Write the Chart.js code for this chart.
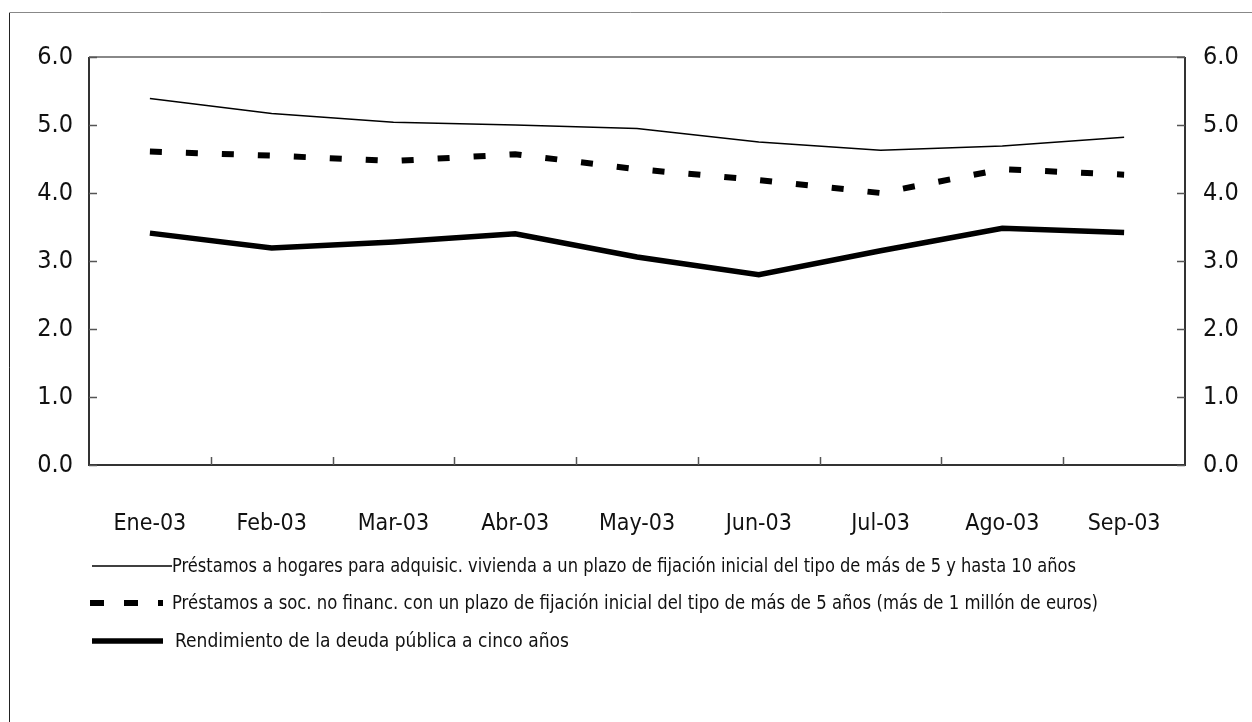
<!DOCTYPE html>
<html>
<head>
<meta charset="utf-8">
<script src="https://cdn.jsdelivr.net/npm/chart.js@4.4.1/dist/chart.umd.min.js"></script>
<style>
  html, body { margin: 0; padding: 0; background: #fff; }
  #wrap { position: relative; width: 1252px; height: 722px; }
</style>
</head>
<body>
<div id="wrap"><canvas id="rates"></canvas></div>
<script>
// ---- data ----
const months = ["Ene-03", "Feb-03", "Mar-03", "Abr-03", "May-03", "Jun-03", "Jul-03", "Ago-03", "Sep-03"];
const hogares = [5.39, 5.17, 5.04, 5.00, 4.95, 4.75, 4.63, 4.69, 4.82];
const sociedades = [4.61, 4.55, 4.47, 4.57, 4.35, 4.19, 4.00, 4.35, 4.27];
const deudaPublica = [3.41, 3.19, 3.28, 3.40, 3.06, 2.80, 3.15, 3.48, 3.42];
const yTicks = [0, 1, 2, 3, 4, 5, 6];
const legendLabels = [
    "Préstamos a hogares para adquisic. vivienda a un plazo de fijación inicial del tipo de más de 5 y hasta 10 años",
    "Préstamos a soc. no financ. con un plazo de fijación inicial del tipo de más de 5 años (más de 1 millón de euros)",
    "Rendimiento de la deuda pública a cinco años",
];

const FONT = "'DejaVu Sans Condensed', 'Liberation Sans', sans-serif";

/**
 * Frame, inward tick marks and the hand-placed legend
 */
const framePlugin = {
    id: "frame",
    beforeDraw(chart) {
        const ctx = chart.ctx;
        ctx.save();
        // outer box (only top/left visible in the picture)
        ctx.strokeStyle = "#888";
        ctx.lineWidth = 1;
        ctx.beginPath();
        ctx.moveTo(9.5, 722);
        ctx.lineTo(9.5, 12.5);
        ctx.lineTo(1252, 12.5);
        ctx.stroke();
        ctx.strokeStyle = "#222";
        ctx.beginPath();
        ctx.moveTo(9.5, 13);
        ctx.lineTo(9.5, 722);
        ctx.stroke();
        ctx.restore();
    },
    afterDatasetsDraw(chart) {
        const { ctx, chartArea: a, scales } = chart;
        ctx.save();
        // plot box
        ctx.lineWidth = 2;
        ctx.strokeStyle = "#888";
        ctx.beginPath();
        ctx.moveTo(a.left, a.top);
        ctx.lineTo(a.right, a.top);
        ctx.stroke();
        ctx.strokeStyle = "#333";
        ctx.beginPath();
        ctx.moveTo(a.left, a.top);
        ctx.lineTo(a.left, a.bottom);
        ctx.lineTo(a.right, a.bottom);
        ctx.lineTo(a.right, a.top);
        ctx.stroke();

        // y ticks pointing inward
        ctx.lineWidth = 1.5;
        ctx.strokeStyle = "#555";
        scales.y.ticks.forEach((t) => {
            const py = Math.round(scales.y.getPixelForValue(t.value)) + 0.5;
            ctx.beginPath();
            ctx.moveTo(a.left, py);
            ctx.lineTo(a.left + 8, py);
            ctx.moveTo(a.right - 8, py);
            ctx.lineTo(a.right, py);
            ctx.stroke();
        });
        // x ticks between categories
        const x = scales.x;
        for (let i = 1; i < months.length; i++) {
            const px = Math.round((x.getPixelForValue(i - 1) + x.getPixelForValue(i)) / 2) + 0.5;
            ctx.beginPath();
            ctx.moveTo(px, a.bottom);
            ctx.lineTo(px, a.bottom - 8);
            ctx.stroke();
        }
        ctx.restore();
    },
    afterDraw(chart) {
        const ctx = chart.ctx;
        const ds = chart.data.datasets;
        const rows = [
            { y: 566, x0: 92, x1: 172, tx: 172, w: 904 },
            { y: 603, x0: 90, x1: 163, tx: 172, w: 926, dash: [14, 20] },
            { y: 641, x0: 92, x1: 163, tx: 175, w: 402 },
        ];
        ctx.save();
        rows.forEach((r, i) => {
            ctx.strokeStyle = ds[i].borderColor;
            ctx.lineWidth = ds[i].borderWidth;
            ctx.setLineDash(r.dash || []);
            ctx.beginPath();
            ctx.moveTo(r.x0, r.y);
            ctx.lineTo(r.x1, r.y);
            ctx.stroke();
            ctx.setLineDash([]);
            ctx.fillStyle = "#111";
            ctx.font = "19px " + FONT;
            ctx.textBaseline = "middle";
            ctx.fillText(legendLabels[i], r.tx, r.y + 1, r.w);
        });
        ctx.restore();
    },
};

const xFont = { family: FONT, size: 23 };
const yFont = { family: FONT, size: 25 };

new Chart(document.getElementById("rates"), {
    type: "line",
    data: {
        labels: months,
        datasets: [
            {
                label: legendLabels[0],
                data: hogares,
                borderColor: "#000",
                borderWidth: 1.5,
                pointRadius: 0,
                tension: 0,
            },
            {
                label: legendLabels[1],
                data: sociedades,
                borderColor: "#000",
                borderWidth: 6,
                borderDash: [12, 24],
                borderCapStyle: "butt",
                pointRadius: 0,
                tension: 0,
            },
            {
                label: legendLabels[2],
                data: deudaPublica,
                borderColor: "#000",
                borderWidth: 5.5,
                pointRadius: 0,
                tension: 0,
            },
        ],
    },
    options: {
        responsive: true,
        maintainAspectRatio: false,
        animation: false,
        layout: { padding: { top: 57, left: 0, right: 0, bottom: 0 } },
        plugins: { legend: { display: false }, tooltip: { enabled: false } },
        scales: {
            x: {
                offset: true,
                grid: { display: false, drawTicks: false },
                border: { display: false },
                ticks: { color: "#111", font: xFont, padding: 45, maxRotation: 0 },
                afterFit: (s) => { s.height = 257; },
            },
            y: {
                position: "left",
                min: 0,
                max: 6,
                afterBuildTicks: (s) => { s.ticks = yTicks.map((v) => ({ value: v })); },
                grid: { display: false, drawTicks: false },
                border: { display: false },
                ticks: { color: "#111", font: yFont, padding: 16, callback: (v) => v.toFixed(1) },
                afterFit: (s) => { s.width = 89; },
            },
            y2: {
                position: "right",
                min: 0,
                max: 6,
                afterBuildTicks: (s) => { s.ticks = yTicks.map((v) => ({ value: v })); },
                grid: { display: false, drawTicks: false },
                border: { display: false },
                ticks: { color: "#111", font: yFont, padding: 18, callback: (v) => v.toFixed(1) },
                afterFit: (s) => { s.width = 67; },
            },
        },
    },
    plugins: [framePlugin],
});
</script>
</body>
</html>
